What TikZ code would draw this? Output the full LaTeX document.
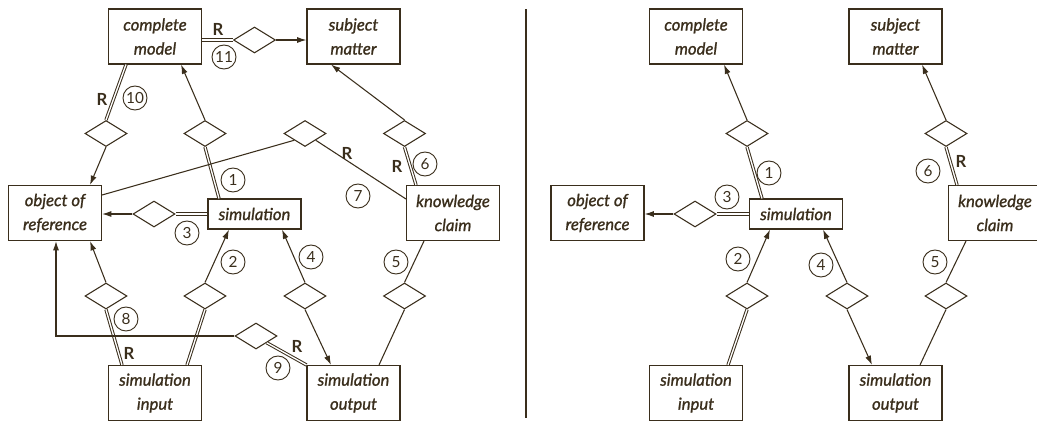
\documentclass[tikz,border=0pt]{standalone}
\usepackage{fontspec}
\setmainfont{Lato}
\newfontfamily\boxfont{Lato}[ItalicFeatures={FakeBold=1.2}]
\usetikzlibrary{shapes.geometric,arrows.meta,calc}
\definecolor{ink}{HTML}{3A2E1C}
\tikzset{
  box/.style={draw=ink,line width=0.8pt,minimum width=69.75pt,minimum height=41.25pt,inner sep=0pt,
    align=center,font=\boxfont\fontsize{12.5}{18}\selectfont\itshape,text=ink},
  simbox/.style={box,minimum height=22.5pt},
  dia/.style={draw=ink,line width=0.8pt,diamond,minimum width=31.5pt,minimum height=19.5pt,inner sep=0pt,fill=white},
  conn/.style={draw=ink,line width=0.8pt},
  arr/.style={conn,-{Latex[length=7pt,width=4.5pt]}},
  dbl/.style={draw=ink,line width=0.75pt,double=white,double distance=1.0pt},
  circ/.style={draw=ink,line width=0.7pt,circle,minimum size=18pt,inner sep=0pt,font=\fontsize{11.5}{11.5}\selectfont,text=ink},
  rlab/.style={font=\fontsize{12.5}{12.5}\selectfont\bfseries,text=ink,inner sep=0pt}
}
\begin{document}
\begin{tikzpicture}[x=0.75pt,y=-0.75pt]
\useasboundingbox (0,0) rectangle (1037,421);
% ---------- left panel ----------
\node[box] (cm) at (155,36.5) {complete\\model};
\node[box] (sm) at (353.5,36.5) {subject\\matter};
\node[box] (oor) at (55,213) {object of\\reference};
\node[simbox] (sim) at (254.5,214) {simulation};
\node[box] (kc) at (453,213) {knowledge\\claim};
\node[box] (si) at (155,393) {simulation\\input};
\node[box] (so) at (353.5,393) {simulation\\output};

\node[dia] (d11) at (254.5,40) {};
\node[dia] (d10) at (106,133.5) {};
\node[dia] (d1) at (205,133.5) {};
\node[dia] (d7) at (305,133.5) {};
\node[dia] (d6) at (404.5,133.5) {};
\node[dia] (d3) at (154,214) {};
\node[dia] (d8) at (106,296) {};
\node[dia] (d2) at (205,296) {};
\node[dia] (d4) at (305,296) {};
\node[dia] (d5) at (404.5,296) {};
\node[dia] (d9) at (256,336) {};

\draw[dbl] (cm.east|-d11) -- (d11.west);
\draw[arr] (d11.east) -- (sm.west|-d11);
\draw[dbl] ($(cm.south)+(-29,0)$) -- (d10.north);
\draw[arr] (d10.south) -- ($(oor.north)+(35,0)$);
\draw[dbl] ($(sim.north)+(-35.5,0)$) -- (d1.south);
\draw[arr] (d1.north) -- ($(cm.south)+(26,0)$);
\draw[conn] ($(oor.east)+(0,-18)$) -- (d7.south west);
\draw[conn] (d7.south east) -- ($(kc.west)+(0,-14)$);
\draw[dbl] ($(kc.north)+(-37,0)$) -- (d6.south);
\draw[arr] (d6.north) -- ($(sm.south)+(-22.5,0)$);
\draw[dbl] (sim.west) -- (d3.east);
\draw[arr] (d3.west) -- (d3.west-|oor.east);
\draw[dbl] ($(si.north)+(-33,0)$) -- (d8.south);
\draw[arr] (d8.north) -- ($(oor.south)+(35,0)$);
\draw[dbl] ($(si.north)+(32,0)$) -- (d2.south);
\draw[arr] (d2.north) -- ($(sim.south)+(-25.5,0)$);
\draw[arr] (d4.north) -- ($(sim.south)+(27.5,0)$);
\draw[arr] (d4.south) -- ($(so.north)+(-22.5,0)$);
\draw[conn] ($(kc.south)+(-29,0)$) -- (d5.north);
\draw[conn] (d5.south) -- ($(so.north)+(25.5,0)$);
\draw[arr] (d9.west) -| ($(oor.south)+(1,0)$);
\draw[dbl] (d9.south east) -- (so.north west);

\node[rlab] (r11) at (218,29) {R};
\node[circ] (c11) at (224,57) {11};
\node[rlab] (r10) at (102,99) {R};
\node[circ] (c10) at (135,98) {10};
\node[circ] (c1) at (233,180) {1};
\node[rlab] (r7) at (347,153) {R};
\node[circ] (c7) at (358,196) {7};
\node[rlab] (r6) at (397,166) {R};
\node[circ] (c6) at (425,164) {6};
\node[circ] (c3) at (187,233) {3};
\node[circ] (c8) at (126,319) {8};
\node[rlab] (r8) at (129,353) {R};
\node[circ] (c2) at (233,262) {2};
\node[circ] (c4) at (311,257) {4};
\node[circ] (c5) at (396,262) {5};
\node[rlab] (r9) at (297,346) {R};
\node[circ] (c9) at (278,368) {9};

% ---------- divider ----------
\coordinate (vt) at (526,9);
\coordinate (vb) at (526,418);
\draw[conn] (vt) -- (vb);

% ---------- right panel ----------
\node[box] (cmr) at (696,36.5) {complete\\model};
\node[box] (smr) at (895.5,36.5) {subject\\matter};
\node[box] (oorr) at (597.5,213) {object of\\reference};
\node[simbox] (simr) at (796,214) {simulation};
\node[box] (kcr) at (995,213) {knowledge\\claim};
\node[box] (sir) at (696,393) {simulation\\input};
\node[box] (sor) at (895.5,393) {simulation\\output};

\node[dia] (d1r) at (747,133.5) {};
\node[dia] (d6r) at (946,133.5) {};
\node[dia] (d3r) at (695,214) {};
\node[dia] (d2r) at (747,296) {};
\node[dia] (d4r) at (847,296) {};
\node[dia] (d5r) at (946,296) {};

\draw[dbl] ($(simr.north)+(-34,0)$) -- (d1r.south);
\draw[arr] (d1r.north) -- ($(cmr.south)+(28,0)$);
\draw[dbl] (simr.west) -- (d3r.east);
\draw[arr] (d3r.west) -- (d3r.west-|oorr.east);
\draw[dbl] ($(kcr.north)+(-38,0)$) -- (d6r.south);
\draw[arr] (d6r.north) -- ($(smr.south)+(26.5,0)$);
\draw[dbl] ($(sir.north)+(32,0)$) -- (d2r.south);
\draw[arr] (d2r.north) -- ($(simr.south)+(-26,0)$);
\draw[arr] (d4r.north) -- ($(simr.south)+(27,0)$);
\draw[arr] (d4r.south) -- ($(sor.north)+(-23.5,0)$);
\draw[conn] ($(kcr.south)+(-29,0)$) -- (d5r.north);
\draw[conn] (d5r.south) -- ($(sor.north)+(24.5,0)$);

\node[circ] (c1r) at (769,173) {1};
\node[circ] (c3r) at (727,197) {3};
\node[rlab] (r6r) at (961,161) {R};
\node[circ] (c6r) at (928,171) {6};
\node[circ] (c2r) at (738,259) {2};
\node[circ] (c4r) at (821,265) {4};
\node[circ] (c5r) at (935,262) {5};
\end{tikzpicture}
\end{document}
